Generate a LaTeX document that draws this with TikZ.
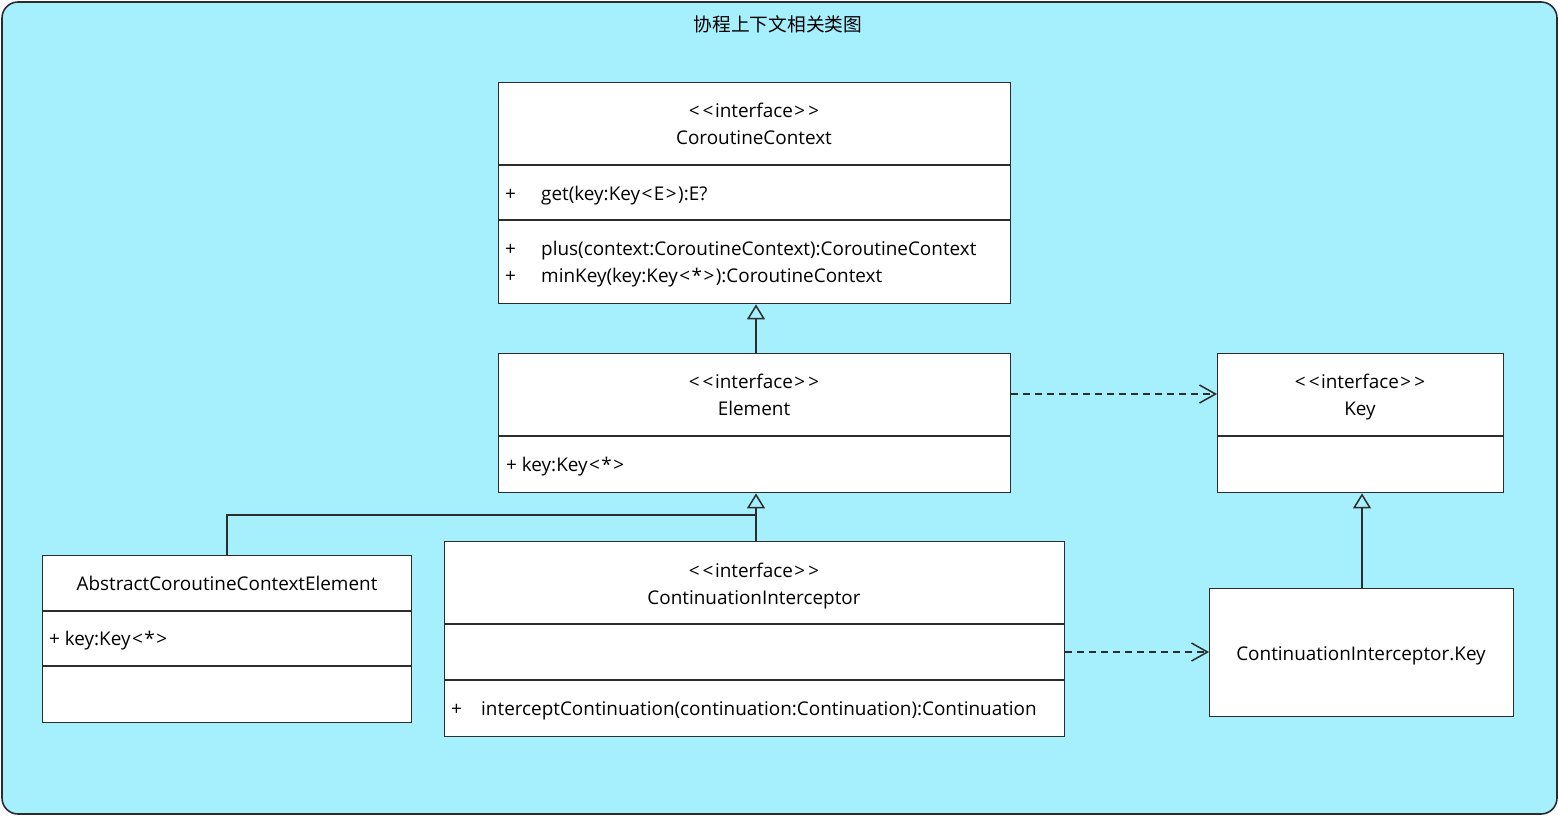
\documentclass[tikz,border=0pt]{standalone}
\usepackage{fontspec}
\setmainfont{Open Sans}
\newfontfamily\cjkfont{Noto Sans CJK SC}
\usetikzlibrary{arrows.meta}
\definecolor{panel}{RGB}{166,239,253}
\definecolor{ink}{RGB}{45,45,45}
% angle brackets set apart, without ligatures
\newcommand\lsym{\kern1.5pt<\kern1.5pt}
\newcommand\gsym{\kern1.5pt>\kern1.5pt}

\begin{document}
\begin{tikzpicture}[x=1pt,y=-1pt,
  classbox/.style={draw=ink, line width=1.4pt, fill=white, inner sep=0pt, anchor=north west},
  divider/.style={draw=ink, line width=1.4pt},
  txt/.style={inner sep=0pt, anchor=mid, font=\fontsize{18.9}{22}\selectfont},
  member/.style={txt, anchor=mid west},
  conn/.style={draw=ink, line width=1.5pt},
  gen/.style={conn, -{Triangle[open, length=15pt, width=18pt, line width=1.5pt]}},
  dep/.style={conn, dash pattern=on 7pt off 5pt, -{Straight Barb[length=16pt, width=18pt, line width=1.5pt]}}
]
\useasboundingbox (0,0) rectangle (1560,817);

% panel
\draw[draw=ink, line width=1.6pt, fill=panel, rounded corners=16pt] (2,2) rectangle (1557,814);
\node[inner sep=0pt, anchor=mid, font=\cjkfont\fontsize{18.7}{22}\selectfont] (title) at (778,29) {协程上下文相关类图};

% CoroutineContext
\node[classbox, minimum width=512pt, minimum height=221pt] (cc) at (498,82) {};
\draw[divider] (498,165) -- (1010,165);
\draw[divider] (498,220) -- (1010,220);
\node[txt] (cc-st) at (754,115) {\lsym\lsym interface\gsym\gsym};
\node[txt] (cc-nm) at (754,142) {CoroutineContext};
\node[member] (cc-p1) at (505,198) {+};
\node[member] (cc-m1) at (541,198) {get(key:Key\lsym E\gsym):E?};
\node[member] (cc-p2) at (505,253) {+};
\node[member] (cc-m2) at (541,253) {plus(context:CoroutineContext):CoroutineContext};
\node[member] (cc-p3) at (505,280) {+};
\node[member] (cc-m3) at (541,280) {minKey(key:Key\lsym*\gsym):CoroutineContext};

% Element
\node[classbox, minimum width=512pt, minimum height=139pt] (el) at (498,353) {};
\draw[divider] (498,436) -- (1010,436);
\node[txt] (el-st) at (754,386) {\lsym\lsym interface\gsym\gsym};
\node[txt] (el-nm) at (754,413) {Element};
\node[member] (el-m1) at (506,469) {+ key:Key\lsym*\gsym};

% Key
\node[classbox, minimum width=286pt, minimum height=139pt] (key) at (1217,353) {};
\draw[divider] (1217,436) -- (1503,436);
\node[txt] (key-st) at (1360,386) {\lsym\lsym interface\gsym\gsym};
\node[txt] (key-nm) at (1360,413) {Key};

% AbstractCoroutineContextElement
\node[classbox, minimum width=369pt, minimum height=167pt] (ace) at (42,555) {};
\draw[divider] (42,611) -- (411,611);
\draw[divider] (42,666) -- (411,666);
\node[txt] (ace-nm) at (227,588) {AbstractCoroutineContextElement};
\node[member] (ace-m1) at (49,643) {+ key:Key\lsym*\gsym};

% ContinuationInterceptor
\node[classbox, minimum width=620pt, minimum height=195pt] (ci) at (444,541) {};
\draw[divider] (444,624) -- (1064,624);
\draw[divider] (444,680) -- (1064,680);
\node[txt] (ci-st) at (754,575) {\lsym\lsym interface\gsym\gsym};
\node[txt] (ci-nm) at (754,602) {ContinuationInterceptor};
\node[member] (ci-p1) at (451,713) {+};
\node[member] (ci-m1) at (481,713) {interceptContinuation(continuation:Continuation):Continuation};

% ContinuationInterceptor.Key
\node[classbox, minimum width=304pt, minimum height=128pt] (cik) at (1209,588) {};
\node[txt] (cik-nm) at (1361,658) {ContinuationInterceptor.Key};

% relations (the generalisation line runs just right of the box centres)
\coordinate (join) at (756,515);
\draw[gen] (el.north -| join) -- (cc.south -| join);
\draw[gen] (ci.north -| join) -- (el.south -| join);
\draw[conn] (ace.north) |- (join);
\draw[dep] (el.east |- 0,394) -- (key.west |- 0,394);
\draw[dep] (ci.east |- 0,652) -- (cik.west |- 0,652);
\draw[gen] (cik.north -| 1362,0) -- (key.south -| 1362,0);
\end{tikzpicture}
\end{document}
